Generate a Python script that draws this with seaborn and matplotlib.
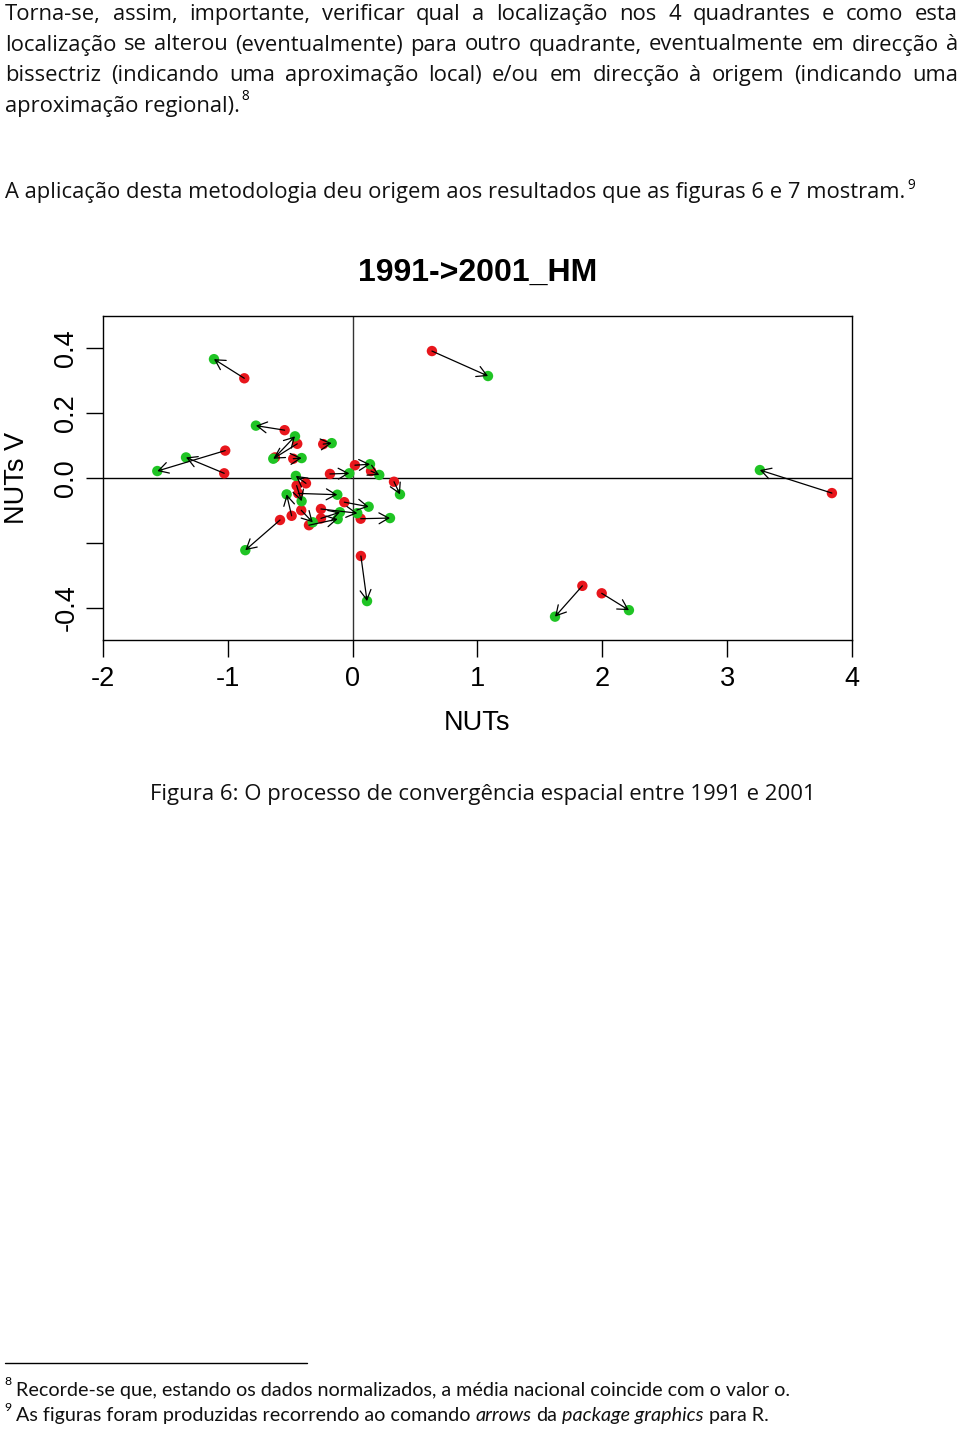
import matplotlib
matplotlib.use('Agg')
import matplotlib.pyplot as plt
from matplotlib.lines import Line2D
import seaborn as sns

# posições em 1991 (vermelho) e 2001 (verde): NUTs (x) e NUTs V (y)
x1991 = [-0.868, -0.545, -1.021, -1.029, -0.444, -0.623, -0.476, -0.236, -0.182, 0.018,
         0.147, 0.331, -0.374, -0.449, -0.436, -0.582, -0.489, -0.412, -0.350, -0.254,
         -0.254, -0.067, 0.064, 0.066, 0.635, 3.839, 1.840, 1.995]
y1991 = [0.307, 0.147, 0.084, 0.014, 0.105, 0.063, 0.059, 0.104, 0.012, 0.039,
         0.021, -0.012, -0.017, -0.024, -0.048, -0.130, -0.117, -0.100, -0.146, -0.096,
         -0.125, -0.075, -0.126, -0.241, 0.391, -0.047, -0.333, -0.356]
x2001 = [-1.111, -0.775, -1.565, -1.335, -0.636, -0.462, -0.409, -0.168, -0.027, 0.139,
         0.213, 0.379, -0.455, -0.409, -0.123, -0.860, -0.529, -0.320, -0.120, 0.037,
         -0.102, 0.128, 0.299, 0.115, 1.084, 3.262, 1.621, 2.213]
y2001 = [0.366, 0.161, 0.021, 0.063, 0.059, 0.128, 0.061, 0.107, 0.014, 0.042,
         0.009, -0.051, 0.006, -0.072, -0.052, -0.223, -0.051, -0.137, -0.127, -0.109,
         -0.106, -0.089, -0.124, -0.380, 0.314, 0.024, -0.428, -0.408]

xticks = [-2, -1, 0, 1, 2, 3, 4]
yticks = [-0.4, -0.2, 0.0, 0.2, 0.4]
ytick_labels = ['-0.4', '', '0.0', '0.2', '0.4']

title = '1991->2001_HM'
xlab = 'NUTs'
ylab = 'NUTs V'

para_lines = [
    'Torna-se, assim, importante, verificar qual a localização nos 4 quadrantes e como esta',
    'localização se alterou (eventualmente) para outro quadrante, eventualmente em direcção à',
    'bissectriz (indicando uma aproximação local) e/ou em direcção à origem (indicando uma',
    'aproximação regional).',
]
para2 = 'A aplicação desta metodologia deu origem aos resultados que as figuras 6 e 7 mostram.'
caption = 'Figura 6: O processo de convergência espacial entre 1991 e 2001'
foot1 = 'Recorde-se que, estando os dados normalizados, a média nacional coincide com o valor o.'
foot2 = [('As figuras foram produzidas recorrendo ao comando', 'normal'), ('arrows', 'italic'),
         ('da', 'normal'), ('package graphics', 'italic'), ('para R.', 'normal')]

RED = '#e8161c'
GREEN = '#1fc424'

sns.set_style('ticks')
plt.rcParams['font.family'] = ['Liberation Sans', 'DejaVu Sans']
plt.rcParams['text.color'] = 'black'
plt.rcParams['axes.labelcolor'] = 'black'

W, H = 960, 1430
fig = plt.figure(figsize=(9.6, 14.3), dpi=100)
fig.patch.set_facecolor('white')
renderer = fig.canvas.get_renderer()


def fx(x):
    return x / W


def fy(y):
    return 1 - y / H


def width(s, **kw):
    t = fig.text(0, 0, s, **kw)
    w = t.get_window_extent(renderer).width
    t.remove()
    return w


def put_words(words, x, y, gap, **kw):
    # words: lista de (texto, estilo)
    for w, st in words:
        fig.text(fx(x), fy(y), w, va='baseline', ha='left', style=st, **kw)
        x += width(w, style=st, **kw) + gap
    return x - gap


# texto do corpo
body = dict(family=['Open Sans', 'DejaVu Sans'], color='#111111')
bsize = 10 * 903 / width(para2, fontsize=10, **body)
body['fontsize'] = bsize

baselines = [20, 50.5, 81.3, 112]
for line, yb in zip(para_lines[:3], baselines[:3]):
    words = line.split(' ')
    ws = [width(w, **body) for w in words]
    gap = (958 - 5 - sum(ws)) / (len(words) - 1)
    put_words([(w, 'normal') for w in words], 5, yb, gap, **body)

end = put_words([(para_lines[3], 'normal')], 5, baselines[3], 0, **body)
fig.text(fx(end + 1), fy(100), '8', va='baseline', fontsize=bsize * 0.62, family=body['family'])

end = put_words([(para2, 'normal')], 5, 198, 0, **body)
fig.text(fx(end + 2), fy(189), '9', va='baseline', fontsize=bsize * 0.62, family=body['family'])

# legenda da figura
csize = 10 * 665 / width(caption, fontsize=10, family=body['family'])
fig.text(fx(482.5), fy(800), caption, ha='center', va='baseline', fontsize=csize,
         family=body['family'], color='#111111')

# gráfico
ax = fig.add_axes([103 / W, fy(640), 749 / W, 324.3 / H])
ax.set_xlim(-2, 4)
ax.set_ylim(-0.5, 0.5)
ax.axhline(0, color='black', lw=1, zorder=1)
ax.axvline(0, color='#333333', lw=1, zorder=1)

sns.scatterplot(x=x1991, y=y1991, color=RED, s=56, edgecolor='none', ax=ax, zorder=3)
sns.scatterplot(x=x2001, y=y2001, color=GREEN, s=56, edgecolor='none', ax=ax, zorder=3)

for xa, ya, xb, yb in zip(x1991, y1991, x2001, y2001):
    ax.annotate('', xy=(xb, yb), xytext=(xa, ya), zorder=4,
                arrowprops=dict(arrowstyle='->,head_length=0.5,head_width=0.28',
                                color='black', lw=0.9, shrinkA=0, shrinkB=0,
                                mutation_scale=14))

ax.set_xticks(xticks)
ax.set_xticklabels([str(t) for t in xticks])
ax.set_yticks(yticks)
ax.set_yticklabels(ytick_labels, rotation=90, va='center')
ax.tick_params(axis='both', direction='out', length=12, width=1, colors='black',
               labelsize=19.5)
ax.tick_params(axis='x', pad=7)
ax.tick_params(axis='y', pad=5)
for sp in ax.spines.values():
    sp.set_visible(True)
    sp.set_color('black')
    sp.set_linewidth(1)

ax.set_xlabel(xlab, fontsize=19.5, color='black')
ax.xaxis.set_label_coords(0.5, (640 - 723) / 324.3)
ax.xaxis.label.set_va('center')
ax.set_ylabel(ylab, fontsize=19.5, color='black')
ax.yaxis.set_label_coords((17 - 103) / 749, 0.5)
ax.yaxis.label.set_va('center')

fig.text(fx(477.5), fy(281), title, ha='center', va='baseline', fontsize=23,
         fontweight='bold', color='black', family=['Liberation Sans', 'DejaVu Sans'])

# notas de rodapé
fig.add_artist(Line2D([fx(5), fx(307)], [fy(1363), fy(1363)], color='black', lw=1))
foot = dict(family=['Lato', 'DejaVu Sans'], color='#111111')
fsize = 10 * (791 - 16) / width(foot1, fontsize=10, **foot)
foot['fontsize'] = fsize
fig.text(fx(4), fy(1385), '8', va='baseline', fontsize=fsize * 0.62, family=foot['family'])
put_words([(foot1, 'normal')], 16, 1396, 0, **foot)
fig.text(fx(4), fy(1411), '9', va='baseline', fontsize=fsize * 0.62, family=foot['family'])
sp_w = width('a a', **foot) - width('aa', **foot)
put_words(foot2, 16, 1421, sp_w, **foot)

fig.savefig('out.png', dpi=100, facecolor='white')
